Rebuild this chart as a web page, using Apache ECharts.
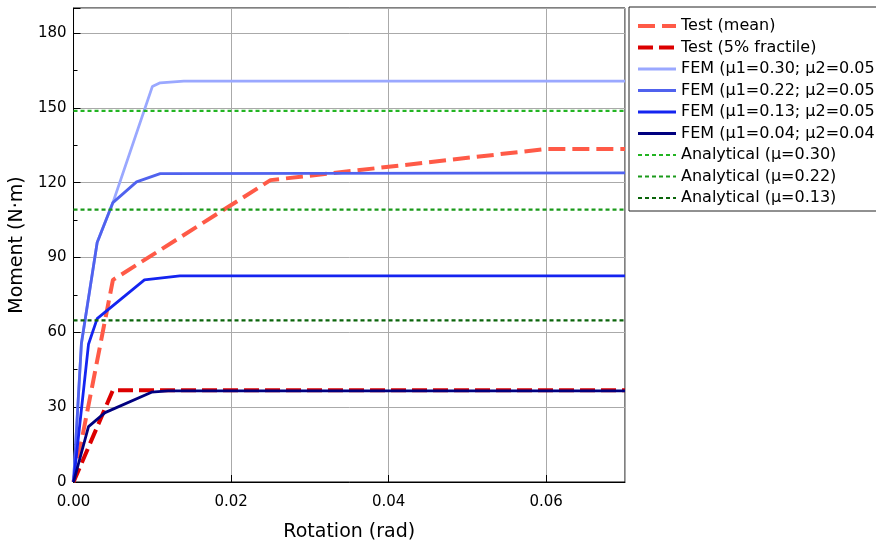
<!DOCTYPE html>
<html>
<head>
<meta charset="utf-8">
<script src="https://cdn.jsdelivr.net/npm/echarts@6/dist/echarts.min.js"></script>
<style>
  html, body { margin: 0; padding: 0; background: #fff; }
  #chart { width: 876px; height: 547px; }
</style>
</head>
<body>
<div id="chart"></div>
<script>
// Moment-rotation curves: tests, FEM models and analytical capacities
const xTicks = [0, 0.02, 0.04, 0.06];
const yTicks = [0, 30, 60, 90, 120, 150, 180];

const testMeanX = [0, 0.005, 0.025, 0.06, 0.07];
const testMeanY = [0, 81, 121, 133.5, 133.5];

const test5X = [0, 0.005, 0.07];
const test5Y = [0, 36.8, 36.8];

const fem030X = [0, 0.001, 0.003, 0.005, 0.01, 0.011, 0.014, 0.07];
const fem030Y = [0, 55.5, 96, 112, 158.5, 160, 160.7, 160.7];

const fem022X = [0, 0.001, 0.003, 0.005, 0.008, 0.011, 0.07];
const fem022Y = [0, 55.5, 96, 112, 120.3, 123.6, 123.9];

const fem013X = [0, 0.0019, 0.003, 0.009, 0.0135, 0.07];
const fem013Y = [0, 55.2, 65.5, 81, 82.6, 82.6];

const fem004X = [0, 0.0019, 0.004, 0.0099, 0.012, 0.07];
const fem004Y = [0, 22.2, 27.8, 36, 36.5, 36.5];

const anaX = [0, 0.07];
const ana030Y = [148.8, 148.8];
const ana022Y = [109.2, 109.2];
const ana013Y = [64.8, 64.8];

const names = [
  'Test (mean)',
  'Test (5% fractile)',
  'FEM (μ1=0.30; μ2=0.05)',
  'FEM (μ1=0.22; μ2=0.05)',
  'FEM (μ1=0.13; μ2=0.05)',
  'FEM (μ1=0.04; μ2=0.04)',
  'Analytical (μ=0.30)',
  'Analytical (μ=0.22)',
  'Analytical (μ=0.13)'
];

const zip = (xs, ys) => xs.map((x, i) => [x, ys[i]]);
const FONT = "'DejaVu Sans', Verdana, sans-serif";

function lineSeries(name, xs, ys, color, width, type) {
  return {
    name: name,
    type: 'line',
    data: zip(xs, ys),
    symbol: 'none',
    smooth: false,
    animation: false,
    lineStyle: { color: color, width: width, type: type, cap: 'butt' },
    itemStyle: { color: color }
  };
}

const series = [
  lineSeries(names[0], testMeanX, testMeanY, '#ff5a47', 4, [17, 7]),
  lineSeries(names[1], test5X, test5Y, '#dc0000', 4, [15, 6]),
  lineSeries(names[2], fem030X, fem030Y, '#9aa8ff', 2.8, 'solid'),
  lineSeries(names[3], fem022X, fem022Y, '#5062ee', 2.8, 'solid'),
  lineSeries(names[4], fem013X, fem013Y, '#1424f0', 2.8, 'solid'),
  lineSeries(names[5], fem004X, fem004Y, '#00007f', 2.8, 'solid'),
  lineSeries(names[6], anaX, ana030Y, '#22b422', 2.2, [4, 3]),
  lineSeries(names[7], anaX, ana022Y, '#1a9a1a', 2.2, [4, 3]),
  lineSeries(names[8], anaX, ana013Y, '#0a640a', 2.2, [4, 3])
];

const chart = echarts.init(document.getElementById('chart'), null, { renderer: 'canvas' });
chart.setOption({
  animation: false,
  backgroundColor: '#fff',
  textStyle: { fontFamily: FONT, color: '#000' },
  grid: {
    left: 73.5, right: 251, top: 8, bottom: 64,
    show: true, borderColor: '#000', borderWidth: 1,
    containLabel: false
  },
  legend: {
    orient: 'vertical',
    left: 629,
    top: 7,
    data: names,
    itemWidth: 38,
    itemHeight: 14,
    itemGap: 3.5,
    padding: [10, 8, 4, 7],
    borderColor: '#222',
    borderWidth: 1,
    backgroundColor: '#fff',
    selectedMode: false,
    itemStyle: { opacity: 0 },
    lineStyle: { width: 'inherit', type: 'inherit', cap: 'butt' },
    textStyle: { fontFamily: FONT, fontSize: 16, color: '#000', lineHeight: 18 }
  },
  xAxis: {
    type: 'value',
    min: xTicks[0],
    max: 0.07,
    interval: xTicks[1] - xTicks[0],
    name: 'Rotation (rad)',
    nameLocation: 'middle',
    nameGap: 41,
    nameTextStyle: { fontFamily: FONT, fontSize: 19, color: '#000' },
    axisLine: { show: true, onZero: false, lineStyle: { color: '#000', width: 1 } },
    axisTick: { show: true, inside: true, length: 7, lineStyle: { color: '#000' } },
    axisLabel: {
      fontFamily: FONT, fontSize: 15, color: '#000', margin: 13,
      showMaxLabel: false,
      formatter: v => (xTicks.some(t => Math.abs(t - v) < 1e-9) ? v.toFixed(2) : '')
    },
    splitLine: { show: true, lineStyle: { color: '#aaa', width: 1 } }
  },
  yAxis: {
    type: 'value',
    min: yTicks[0],
    max: 190,
    interval: yTicks[1] - yTicks[0],
    name: 'Moment (N·m)',
    nameLocation: 'middle',
    nameGap: 42,
    nameTextStyle: { fontFamily: FONT, fontSize: 19, color: '#000' },
    axisLine: { show: true, lineStyle: { color: '#000', width: 1 } },
    axisTick: { show: true, inside: true, length: 7, lineStyle: { color: '#000' } },
    minorTick: { show: true, splitNumber: 2, length: 4, lineStyle: { color: '#000' } },
    axisLabel: {
      fontFamily: FONT, fontSize: 15, color: '#000', margin: 7,
      formatter: v => (yTicks.indexOf(v) >= 0 ? String(v) : '')
    },
    splitLine: { show: true, lineStyle: { color: '#aaa', width: 1 } }
  },
  series: series
});
</script>
</body>
</html>
